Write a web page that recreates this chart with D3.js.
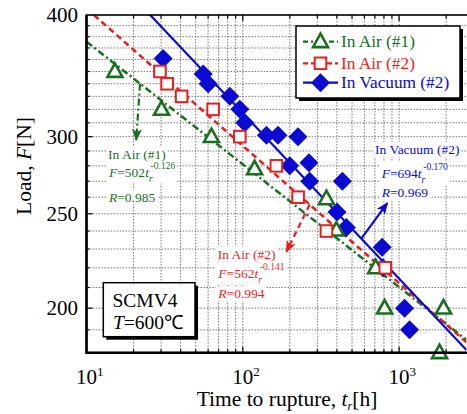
<!DOCTYPE html>
<html><head><meta charset="utf-8">
<script src="https://cdn.jsdelivr.net/npm/d3@7"></script>
<style>body{margin:0;background:#fff}svg{display:block}text{font-family:"Liberation Serif","Times New Roman",serif}</style>
</head><body><svg id="c" width="467" height="414"></svg>
<script>
// ---- data ----
const airOneTime = [15.2, 30.2, 63, 119, 343, 397, 708, 808, 1924, 1815];
const airOneLoad = [350, 320, 300, 278, 259, 240.5, 220, 200, 200, 180];
const airTwoTime = [29.5, 32.8, 40.6, 64.6, 95.7, 164, 226, 343, 816];
const airTwoLoad = [350, 340, 330, 320, 300, 280, 260, 240, 220];
const vacTime = [30.9, 55.8, 60, 82.6, 95.7, 103, 141.7, 168, 225.6, 199.7, 265, 268, 433.6, 400.5, 459.8, 778.7, 788, 1084, 1167];
const vacLoad = [361, 348, 340, 330, 320, 310, 301, 301, 300, 280, 282, 270, 270, 251, 242, 231, 220, 200, 190];
const seriesNames = ["In Air (#1)", "In Air (#2)", "In Vacuum (#2)"];
const fitCoef = [502, 562, 694];
const fitExp = [-0.126, -0.141, -0.170];
const fitR = ["0.985", "0.994", "0.969"];
const yTicks = [200, 250, 300, 400];
const xTicks = [10, 100, 1000];
const xTickExp = ["1", "2", "3"];
// arrows: start time on fit line, end point (time, load)
const arrowStartT = [22, 268, 573];
const arrowEndT = [20.8, 190, 841];
const arrowEndF = [297.6, 228.5, 256.4];

const colors = ["#18701f", "#e61e1e", "#0a0ad2"];
const dashes = ["7,3,2,3", "6,4", null];

const svg = d3.select("#c");
const L = 86.5, R = 466.5, T = 15, B = 352.7;
const x = d3.scaleLog().domain([10, 2700]).range([L, R]);
const y = d3.scaleLog().domain([180, 400]).range([B, T]);

// grid
const xGrid = [];
[10, 100, 1000].forEach(d => { for (let m = 1; m <= 9; m++) { const v = m * d; if (v > 10 && v < 2700) xGrid.push(v); } });
const yGrid = d3.range(190, 400, 10);
const grid = svg.append("g").attr("stroke", "#555").attr("stroke-width", 0.8).attr("stroke-dasharray", "1.5,1.5");
grid.selectAll(".gx").data(xGrid).join("line").attr("x1", d => x(d)).attr("x2", d => x(d)).attr("y1", T).attr("y2", B);
grid.selectAll(".gy").data(yGrid).join("line").attr("y1", d => y(d)).attr("y2", d => y(d)).attr("x1", L).attr("x2", R);

// ticks (inside)
const tk = svg.append("g").attr("stroke", "#000").attr("stroke-width", 1.2);
xGrid.forEach(v => {
  const major = xTicks.includes(v);
  const len = major ? 6 : 3.5;
  tk.append("line").attr("x1", x(v)).attr("x2", x(v)).attr("y1", B).attr("y2", B - len);
  tk.append("line").attr("x1", x(v)).attr("x2", x(v)).attr("y1", T).attr("y2", T + len);
});
yGrid.forEach(v => {
  const major = yTicks.includes(v);
  const len = major ? 6 : 3;
  tk.append("line").attr("y1", y(v)).attr("y2", y(v)).attr("x1", L).attr("x2", L + len);
});

// clip
svg.append("clipPath").attr("id", "clip").append("rect").attr("x", L).attr("y", T).attr("width", R - L).attr("height", B - T);

// arrow markers
const defs = svg.append("defs");
colors.forEach((c, i) => {
  defs.append("marker").attr("id", "ah" + i).attr("markerUnits", "userSpaceOnUse")
    .attr("viewBox", "0 0 12 10").attr("refX", 11).attr("refY", 5)
    .attr("markerWidth", 12).attr("markerHeight", 10).attr("orient", "auto")
    .append("path").attr("d", "M0,0 L12,5 L0,10 L3,5 Z").attr("fill", c);
});

// fit lines
const fitG = svg.append("g").attr("clip-path", "url(#clip)");
const tRange = [10, 2700];
fitCoef.forEach((a, i) => {
  const f = t => a * Math.pow(t, fitExp[i]);
  const p = fitG.append("line")
    .attr("x1", x(tRange[0])).attr("y1", y(f(tRange[0])))
    .attr("x2", x(tRange[1])).attr("y2", y(f(tRange[1])))
    .attr("stroke", colors[i]).attr("stroke-width", i === 2 ? 2.2 : 2.5);
  if (dashes[i]) p.attr("stroke-dasharray", dashes[i]);
});

// annotations
const annos = [
  {i: 0, x0: 108, x1: 109, yN: 158.5, yF: 176.5, yR: 201.5},
  {i: 1, x0: 217.7, x1: 218.3, yN: 258.5, yF: 278, yR: 298},
  {i: 2, x0: 375, x1: 381.7, yN: 154, yF: 178, yR: 196.5}
];
const fs = 13.5;
const annoG = svg.append("g");
annos.forEach(a => {
  const c = colors[a.i];
  const g = annoG.append("g");
  const bg = g.append("g");
  const t1 = g.append("text").attr("x", a.x0).attr("y", a.yN).attr("fill", c).attr("font-size", fs).text(seriesNames[a.i]);
  const t2 = g.append("text").attr("x", a.x1).attr("y", a.yF).attr("fill", c).attr("font-size", fs);
  t2.append("tspan").attr("font-style", "italic").text("F");
  t2.append("tspan").text("=" + fitCoef[a.i]);
  t2.append("tspan").attr("font-style", "italic").text("t");
  t2.append("tspan").attr("font-style", "italic").attr("font-size", 9.5).attr("dy", 5).text("r");
  t2.append("tspan").attr("font-size", 9.5).attr("dx", -2).attr("dy", -13).text(fitExp[a.i].toFixed(3));
  const t3 = g.append("text").attr("x", a.x1).attr("y", a.yR).attr("fill", c).attr("font-size", fs);
  t3.append("tspan").attr("font-style", "italic").text("R");
  t3.append("tspan").text("=" + fitR[a.i]);
  [t1, t2, t3].forEach(t => {
    const b = t.node().getBBox();
    bg.append("rect").attr("x", b.x - 1.5).attr("y", b.y).attr("width", b.width + 3).attr("height", b.height).attr("fill", "#fff");
  });
});

// arrows
arrowStartT.forEach((t0, i) => {
  const f0 = fitCoef[i] * Math.pow(t0, fitExp[i]);
  const ln = svg.append("line")
    .attr("x1", x(t0)).attr("y1", y(f0))
    .attr("x2", x(arrowEndT[i])).attr("y2", y(arrowEndF[i]))
    .attr("stroke", colors[i]).attr("stroke-width", 2.2)
    .attr("marker-end", "url(#ah" + i + ")");
  if (dashes[i]) ln.attr("stroke-dasharray", dashes[i]);
});

// markers
function tri(cx, cy, s) { const h = s * 0.9; return `M${cx},${cy - h * 0.6} L${cx + s / 2},${cy + h * 0.4} L${cx - s / 2},${cy + h * 0.4} Z`; }
function dia(cx, cy, r) { return `M${cx},${cy - r} L${cx + r},${cy} L${cx},${cy + r} L${cx - r},${cy} Z`; }
const mk = svg.append("g");
mk.selectAll(".v").data(vacTime.map((t, k) => [t, vacLoad[k]])).join("path")
  .attr("d", d => dia(x(d[0]), y(d[1]), 9.5)).attr("fill", colors[2]);
mk.selectAll(".a1").data(airOneTime.map((t, k) => [t, airOneLoad[k]])).join("path")
  .attr("d", d => tri(x(d[0]), y(d[1]), 15)).attr("fill", "#fff").attr("stroke", colors[0]).attr("stroke-width", 2.6).attr("stroke-linejoin", "miter");
mk.selectAll(".a2").data(airTwoTime.map((t, k) => [t, airTwoLoad[k]])).join("rect")
  .attr("x", d => x(d[0]) - 5.8).attr("y", d => y(d[1]) - 5.8).attr("width", 11.6).attr("height", 11.6)
  .attr("fill", "#fff").attr("stroke", colors[1]).attr("stroke-width", 2);

// frame
svg.append("rect").attr("x", L).attr("y", T).attr("width", R - L + 3).attr("height", B - T)
  .attr("fill", "none").attr("stroke", "#000").attr("stroke-width", 1.6);
svg.append("line").attr("x1", L).attr("x2", R).attr("y1", B).attr("y2", B).attr("stroke", "#000").attr("stroke-width", 2.6);
svg.append("line").attr("x1", L).attr("x2", L).attr("y1", T).attr("y2", B + 1.3).attr("stroke", "#000").attr("stroke-width", 2.6);

// y tick labels
svg.selectAll(".yl").data(yTicks).join("text").attr("x", 78).attr("y", d => y(d)).attr("dy", "0.35em")
  .attr("text-anchor", "end").attr("font-size", 21).text(d => d);
// x tick labels
xTicks.forEach((v, i) => {
  const t = svg.append("text").attr("x", x(v) - 10.5).attr("y", 383.5).attr("font-size", 21);
  t.append("tspan").text("10");
  t.append("tspan").attr("font-size", 13).attr("dy", -8).text(xTickExp[i]);
});
// axis titles
const xt = svg.append("text").attr("x", 287).attr("y", 406).attr("text-anchor", "middle").attr("font-size", 21.5);
xt.append("tspan").text("Time to rupture, ");
xt.append("tspan").attr("font-style", "italic").text("t");
xt.append("tspan").attr("font-style", "italic").attr("font-size", 12).attr("dy", 3.5).text("r");
xt.append("tspan").attr("dy", -3.5).text("[h]");
const yt = svg.append("text").attr("transform", "translate(31,166) rotate(-90)").attr("text-anchor", "middle").attr("font-size", 21.5);
yt.append("tspan").text("Load, ");
yt.append("tspan").attr("font-style", "italic").text("F");
yt.append("tspan").text("[N]");

// legend
const lg = svg.append("g");
lg.append("rect").attr("x", 299).attr("y", 29).attr("width", 164).attr("height", 72).attr("fill", "#000");
lg.append("rect").attr("x", 296).attr("y", 26).attr("width", 164).attr("height", 72).attr("fill", "#fff").attr("stroke", "#000").attr("stroke-width", 1.5);
const legY = [41.7, 63.3, 82.7];
seriesNames.forEach((n, i) => {
  const yy = legY[i];
  const l = lg.append("line").attr("x1", 303).attr("x2", 338).attr("y1", yy).attr("y2", yy).attr("stroke", colors[i]).attr("stroke-width", 2.2);
  if (dashes[i]) l.attr("stroke-dasharray", i === 0 ? "5,3,2,3" : "5,3");
  if (i === 0) lg.append("path").attr("d", tri(320.5, yy, 15)).attr("fill", "#fff").attr("stroke", colors[0]).attr("stroke-width", 2.6);
  if (i === 1) lg.append("rect").attr("x", 314.7).attr("y", yy - 5.8).attr("width", 11.6).attr("height", 11.6).attr("fill", "#fff").attr("stroke", colors[1]).attr("stroke-width", 2);
  if (i === 2) lg.append("path").attr("d", dia(320.5, yy, 9.5)).attr("fill", colors[2]);
  lg.append("text").attr("x", 341).attr("y", yy).attr("dy", "0.33em").attr("font-size", 17.3).attr("fill", colors[i]).text(n);
});

// material box
const mb = svg.append("g");
mb.append("rect").attr("x", 106.3).attr("y", 285.7).attr("width", 91.7).attr("height", 54).attr("fill", "#000");
mb.append("rect").attr("x", 103.3).attr("y", 282.7).attr("width", 91.7).attr("height", 54).attr("fill", "#fff").attr("stroke", "#000").attr("stroke-width", 1.5);
mb.append("text").attr("x", 145).attr("y", 307).attr("text-anchor", "middle").attr("font-size", 19.5).text("SCMV4");
const tt = mb.append("text").attr("x", 148).attr("y", 328.5).attr("text-anchor", "middle").attr("font-size", 19.5);
tt.append("tspan").attr("font-style", "italic").text("T");
tt.append("tspan").text("=600℃");
</script></body></html>
